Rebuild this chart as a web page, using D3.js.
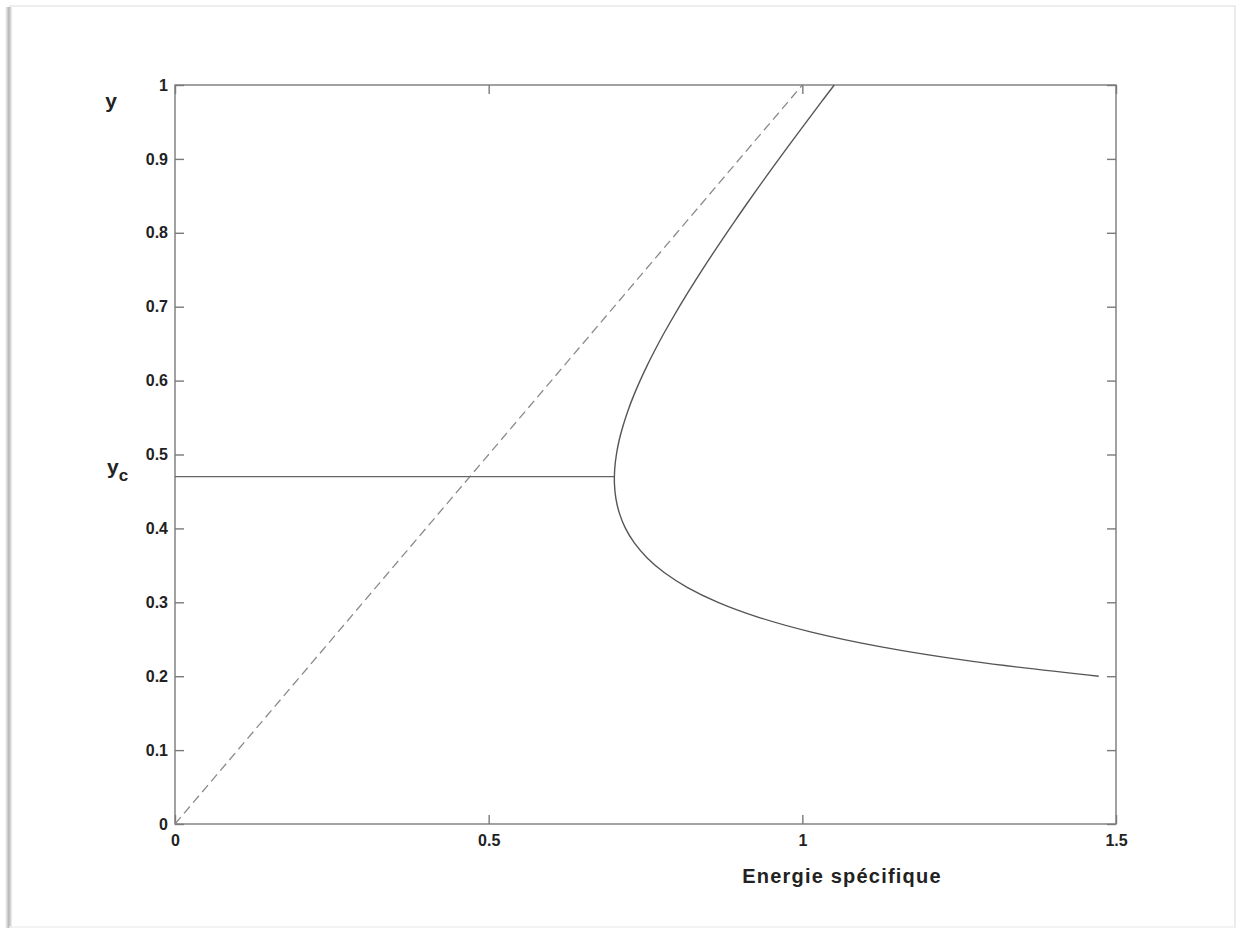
<!DOCTYPE html>
<html>
<head>
<meta charset="utf-8">
<script src="https://cdn.jsdelivr.net/npm/d3@7"></script>
<style>
  html, body { margin: 0; padding: 0; background: #fff; }
  svg { display: block; }
  text { font-family: "Liberation Sans", Arial, sans-serif; fill: #222; }
</style>
</head>
<body>
<svg id="chart" width="1236" height="928"></svg>
<script>
// Specific energy curve: depth y (m) vs specific energy E (m)
const curveY = [0.20, 0.22, 0.24, 0.26, 0.28, 0.30, 0.32, 0.34, 0.36, 0.38, 0.40,
                0.42, 0.44, 0.46, 0.48, 0.50, 0.52, 0.54, 0.56, 0.58, 0.60,
                0.62, 0.64, 0.66, 0.68, 0.70, 0.72, 0.74, 0.76, 0.78, 0.80,
                0.82, 0.84, 0.86, 0.88, 0.90, 0.92, 0.94, 0.96, 0.98, 1.00];
const curveE = [1.4725, 1.2717, 1.1237, 1.0130, 0.9292, 0.8656, 0.8171, 0.7803, 0.7527, 0.7325, 0.7181,
                0.7086, 0.7029, 0.7005, 0.7009, 0.7036, 0.7082, 0.7146, 0.7223, 0.7313, 0.7414,
                0.7524, 0.7643, 0.7768, 0.7901, 0.8039, 0.8182, 0.8330, 0.8481, 0.8637, 0.8795,
                0.8957, 0.9121, 0.9288, 0.9457, 0.9628, 0.9801, 0.9976, 1.0152, 1.0330, 1.0509];

// Reference line E = y
const diagE = [0, 1];
const diagY = [0, 1];

// Critical depth and minimum specific energy
const yCritical = 0.47;
const eMin = 0.70;

const xTicks = [0, 0.5, 1, 1.5];
const xTickLabels = ["0", "0.5", "1", "1.5"];
const yTicks = [0, 0.1, 0.2, 0.3, 0.4, 0.5, 0.6, 0.7, 0.8, 0.9, 1];
const yTickLabels = ["0", "0.1", "0.2", "0.3", "0.4", "0.5", "0.6", "0.7", "0.8", "0.9", "1"];

const svg = d3.select("#chart");
const W = 1236, H = 928;

// Page frame with a soft left shadow
const defs = svg.append("defs");
const grad = defs.append("linearGradient").attr("id", "shadow").attr("x1", 0).attr("x2", 1);
grad.append("stop").attr("offset", 0).attr("stop-color", "#ffffff");
grad.append("stop").attr("offset", 0.55).attr("stop-color", "#b5b5b5");
grad.append("stop").attr("offset", 1).attr("stop-color", "#f2f2f2");
svg.append("rect").attr("x", 5).attr("y", 7).attr("width", 7).attr("height", H - 7).attr("fill", "url(#shadow)");
svg.append("line").attr("x1", 9).attr("x2", W).attr("y1", 6).attr("y2", 6).attr("stroke", "#eeeeee").attr("stroke-width", 2);
svg.append("line").attr("x1", W - 1).attr("x2", W - 1).attr("y1", 6).attr("y2", H).attr("stroke", "#e6e6e6").attr("stroke-width", 1.5);
svg.append("line").attr("x1", 9).attr("x2", W).attr("y1", H - 1).attr("y2", H - 1).attr("stroke", "#efefef").attr("stroke-width", 1.5);

const plotLeft = 175, plotRight = 1116, plotTop = 85, plotBottom = 824;
const x = d3.scaleLinear().domain([0, 1.5]).range([plotLeft, plotRight]);
const y = d3.scaleLinear().domain([0, 1]).range([plotBottom, plotTop]);

const axisColor = "#7a7a7a";
const tickLen = 9;
const g = svg.append("g");

// Plot box
g.append("rect").attr("x", plotLeft).attr("y", plotTop).attr("width", plotRight - plotLeft).attr("height", plotBottom - plotTop)
  .attr("fill", "none").attr("stroke", axisColor).attr("stroke-width", 1.4);

// Inward ticks on all four sides
const bottomAxis = d3.axisBottom(x).tickValues(xTicks).tickSizeInner(-tickLen).tickSizeOuter(0)
  .tickFormat((d, i) => xTickLabels[i]).tickPadding(11);
const topAxis = d3.axisTop(x).tickValues(xTicks).tickSizeInner(-tickLen).tickSizeOuter(0).tickFormat("");
const leftAxis = d3.axisLeft(y).tickValues(yTicks).tickSizeInner(-tickLen).tickSizeOuter(0)
  .tickFormat((d, i) => yTickLabels[i]).tickPadding(7);
const rightAxis = d3.axisRight(y).tickValues(yTicks).tickSizeInner(-tickLen).tickSizeOuter(0).tickFormat("");

function styleAxis(sel) {
  sel.select(".domain").remove();
  sel.selectAll(".tick line").attr("stroke", axisColor).attr("stroke-width", 1.4);
  sel.selectAll(".tick text").attr("fill", "#2a2a2a").style("font-size", "16px").style("font-weight", "bold")
    .style("font-family", '"Liberation Sans", Arial, sans-serif');
}
g.append("g").attr("transform", `translate(0,${plotBottom})`).call(bottomAxis).call(styleAxis);
g.append("g").attr("transform", `translate(0,${plotTop})`).call(topAxis).call(styleAxis);
g.append("g").attr("transform", `translate(${plotLeft},0)`).call(leftAxis).call(styleAxis);
g.append("g").attr("transform", `translate(${plotRight},0)`).call(rightAxis).call(styleAxis);

// Dashed line E = y
g.append("path")
  .datum(diagE.map((e, i) => [e, diagY[i]]))
  .attr("d", d3.line().x(d => x(d[0])).y(d => y(d[1])))
  .attr("fill", "none").attr("stroke", "#8a8a8a").attr("stroke-width", 1.3)
  .attr("stroke-dasharray", "9,5");

// Critical depth line
g.append("path")
  .datum([[0, yCritical], [eMin, yCritical]])
  .attr("d", d3.line().x(d => x(d[0])).y(d => y(d[1])))
  .attr("fill", "none").attr("stroke", "#666").attr("stroke-width", 1.4);

// Specific energy curve
g.append("path")
  .datum(curveE.map((e, i) => [e, curveY[i]]))
  .attr("d", d3.line().curve(d3.curveCatmullRom.alpha(0.5)).x(d => x(d[0])).y(d => y(d[1])))
  .attr("fill", "none").attr("stroke", "#555").attr("stroke-width", 1.4);

// Labels
svg.append("text").attr("x", 111).attr("y", 108).attr("text-anchor", "middle")
  .style("font-size", "21px").style("font-weight", "bold").text("y");

const yc = svg.append("text").attr("x", 107).attr("y", 474)
  .style("font-size", "21px").style("font-weight", "bold");
yc.append("tspan").text("y");
yc.append("tspan").attr("dy", 7).style("font-size", "17px").text("c");

svg.append("text").attr("x", 842).attr("y", 883).attr("text-anchor", "middle")
  .style("font-size", "20px").style("font-weight", "bold").style("letter-spacing", "1.2px")
  .text("Energie spécifique");
</script>
</body>
</html>
